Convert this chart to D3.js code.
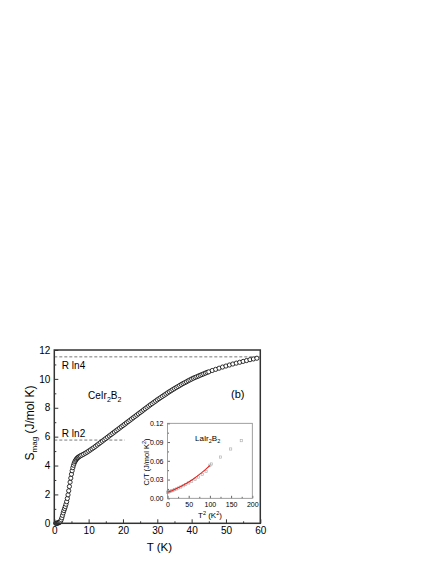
<!DOCTYPE html>
<html>
<head>
<meta charset="utf-8">
<script src="https://cdn.jsdelivr.net/npm/d3@7"></script>
<style>
  body { margin: 0; background: #fff; }
  svg text { font-family: "Liberation Sans", Arial, sans-serif; fill: #000; }
</style>
</head>
<body>
<svg id="chart" width="436" height="564"></svg>
<script>
// main panel: S_mag vs T for CeIr2B2
const tempK = [0.4,0.6,0.8,1.0,1.2,1.4,1.6,1.8,2.0,2.2,2.4,2.6,2.8,3.0,3.2,3.4,3.6,3.8,4.0,4.2,4.4,4.6,4.8,5.0,5.2,5.4,5.6,5.8,6.0,6.2,6.4,6.6,6.8,7.0,7.3,7.6,8.0,8.5,9.0,9.5,
  10,10.5,11,11.5,12,12.5,13,13.5,14,14.5,15,15.5,16,16.5,17,17.5,18,18.5,19,19.5,
  20,20.5,21,21.5,22,22.5,23,23.5,24,24.5,25,25.5,26,26.5,27,27.5,28,28.5,29,29.5,
  30,30.5,31,31.5,32,32.5,33,33.5,34,34.5,35,35.5,36,36.5,37,37.5,38,38.5,39,39.5,
  40,40.5,41,41.5,42,42.5,43,43.5,44,44.5,45,46,47,48,49,50,51,52,53,54,55,56,57,58,59];
const sMag = [0.00,0.00,0.01,0.02,0.03,0.05,0.08,0.14,0.24,0.38,0.55,0.72,0.88,1.02,1.16,1.32,1.50,1.72,1.97,2.25,2.55,2.85,3.13,3.40,3.64,3.85,4.02,4.16,4.27,4.36,4.43,4.49,4.54,4.58,4.63,4.67,4.72,4.78,4.85,4.92,
  5.00,5.08,5.16,5.24,5.33,5.42,5.51,5.60,5.69,5.78,5.87,5.96,6.05,6.14,6.23,6.32,6.41,6.50,6.59,6.68,
  6.77,6.86,6.95,7.04,7.13,7.22,7.31,7.40,7.49,7.58,7.67,7.76,7.85,7.94,8.03,8.12,8.21,8.29,8.38,8.46,
  8.55,8.63,8.71,8.79,8.87,8.95,9.03,9.11,9.18,9.26,9.33,9.40,9.47,9.54,9.61,9.68,9.74,9.80,9.87,9.93,
  9.99,10.05,10.10,10.15,10.20,10.25,10.30,10.35,10.40,10.45,10.49,10.58,10.66,10.74,10.82,10.89,10.96,11.03,11.09,11.15,11.21,11.27,11.33,11.38,11.43];
const R = 8.314;
const levels = [{label: "R ln4", value: R * Math.log(4), tmax: 60},
                {label: "R ln2", value: R * Math.log(2), tmax: 20.5}];
const xTicks = [0,10,20,30,40,50,60];
const yTicks = [0,2,4,6,8,10,12];

// inset: C/T vs T^2 for LaIr2B2
const tSq = [0.5,1.5,3,5,7,10,13,17,21,26,31,37,43,50,57,65,73,82,91,100,104,125,149,174];
const cOverT = [0.0098,0.0100,0.0104,0.0108,0.0113,0.0120,0.0128,0.0138,0.0150,0.0165,0.0180,0.0200,0.0220,0.0246,0.0272,0.0305,0.0340,0.0383,0.0428,0.0530,0.0549,0.0660,0.0789,0.0922];
const fitT2 = [0,10,20,30,40,50,60,70,80,90,100];
const fitCT = [0.0095,0.0122,0.0152,0.0185,0.0221,0.0261,0.0306,0.0354,0.0406,0.0462,0.0525];
const insetXTicks = [0,50,100,150,200];
const insetYTicks = [0,0.03,0.06,0.09,0.12];

const svg = d3.select("#chart");

let x = d3.scaleLinear().domain([0, 60]).range([54.3, 260.3]);
let y = d3.scaleLinear().domain([0, 12]).range([523.3, 350]);

// ticks pointing inward
function addAxes(g, xs, ys, xt, yt, xMinor, yMinor, fs, fmtY, major, minor) {
    let bottom = ys.range()[0], left = xs.range()[0];
    g.append("g").attr("transform", `translate(0,${bottom})`)
        .call(d3.axisBottom(xs).tickValues(xt).tickSizeInner(-major).tickSizeOuter(0).tickPadding(4))
        .call(a => a.select(".domain").remove())
        .call(a => a.selectAll("text").attr("font-size", fs));
    g.append("g").attr("transform", `translate(0,${bottom})`)
        .call(d3.axisBottom(xs).tickValues(xMinor).tickSizeInner(-minor).tickSizeOuter(0).tickFormat(""))
        .call(a => a.select(".domain").remove());
    g.append("g").attr("transform", `translate(${left},0)`)
        .call(d3.axisLeft(ys).tickValues(yt).tickSizeInner(-major).tickSizeOuter(0).tickPadding(4).tickFormat(fmtY))
        .call(a => a.select(".domain").remove())
        .call(a => a.selectAll("text").attr("font-size", fs));
    g.append("g").attr("transform", `translate(${left},0)`)
        .call(d3.axisLeft(ys).tickValues(yMinor).tickSizeInner(-minor).tickSizeOuter(0).tickFormat(""))
        .call(a => a.select(".domain").remove());
    g.selectAll(".tick line").attr("stroke", "#333");
}

let main = svg.append("g");

// reference levels
main.selectAll("line.level").data(levels).enter().append("line")
    .attr("class", "level")
    .attr("x1", x(0)).attr("x2", d => x(d.tmax))
    .attr("y1", d => y(d.value)).attr("y2", d => y(d.value))
    .attr("stroke", "#555").attr("stroke-width", 0.8).attr("stroke-dasharray", "3,2");

main.selectAll("text.level").data(levels).enter().append("text")
    .attr("class", "level")
    .attr("x", x(2.2)).attr("y", d => y(d.value) + (d.tmax > 30 ? 12 : -3))
    .attr("font-size", 10).text(d => d.label);

// data circles
main.selectAll("circle.s").data(tempK).enter().append("circle")
    .attr("class", "s")
    .attr("cx", d => x(d)).attr("cy", (d, i) => y(sMag[i]))
    .attr("r", 2.1).attr("fill", "#fff").attr("stroke", "#000").attr("stroke-width", 0.8);

addAxes(main, x, y, xTicks, yTicks, [5,15,25,35,45,55], [1,3,5,7,9,11], 10, d3.format("d"), 4, 2);

main.append("rect")
    .attr("x", x(0)).attr("y", y(12)).attr("width", x(60) - x(0)).attr("height", y(0) - y(12))
    .attr("fill", "none").attr("stroke", "#333").attr("stroke-width", 1.5);

// labels
let ce = main.append("text").attr("x", 88).attr("y", 399).attr("font-size", 10);
ce.append("tspan").text("CeIr");
ce.append("tspan").attr("font-size", 7).attr("dy", 3).text("2");
ce.append("tspan").attr("dy", -3).text("B");
ce.append("tspan").attr("font-size", 7).attr("dy", 3).text("2");

main.append("text").attr("x", 231).attr("y", 398).attr("font-size", 11).text("(b)");

main.append("text").attr("x", (x(0) + x(60)) / 2 + 2).attr("y", 551)
    .attr("text-anchor", "middle").attr("font-size", 11.5).text("T (K)");

let yt = main.append("text").attr("transform", "translate(34,423) rotate(-90)")
    .attr("text-anchor", "middle").attr("font-size", 12);
yt.append("tspan").text("S");
yt.append("tspan").attr("font-size", 8).attr("dy", 3).text("mag");
yt.append("tspan").attr("dy", -3).text(" (J/mol K)");

// inset
let ix = d3.scaleLinear().domain([0, 200]).range([167.5, 252.3]);
let iy = d3.scaleLinear().domain([0, 0.12]).range([498.3, 423.3]);
let inset = svg.append("g");

inset.append("rect")
    .attr("x", ix(0)).attr("y", iy(0.12)).attr("width", ix(200) - ix(0)).attr("height", iy(0) - iy(0.12))
    .attr("fill", "#fff");

inset.selectAll("rect.pt").data(tSq).enter().append("rect")
    .attr("class", "pt")
    .attr("x", d => ix(d) - 1.1).attr("y", (d, i) => iy(cOverT[i]) - 1.1)
    .attr("width", 2.2).attr("height", 2.2)
    .attr("fill", "none").attr("stroke", "#aaa").attr("stroke-width", 0.6);

let fitLine = d3.line().x(d => ix(d)).y((d, i) => iy(fitCT[i]));
inset.append("path").datum(fitT2).attr("d", fitLine)
    .attr("fill", "none").attr("stroke", "#e8231f").attr("stroke-width", 1.1);

addAxes(inset, ix, iy, insetXTicks, insetYTicks, [25,75,125,175], [0.015,0.045,0.075,0.105], 7, d3.format(".2f"), 2.5, 1.5);
inset.selectAll(".tick line").attr("stroke", "#666");

inset.append("rect")
    .attr("x", ix(0)).attr("y", iy(0.12)).attr("width", ix(200) - ix(0)).attr("height", iy(0) - iy(0.12))
    .attr("fill", "none").attr("stroke", "#888").attr("stroke-width", 0.8);

let la = inset.append("text").attr("x", 195).attr("y", 441).attr("font-size", 8);
la.append("tspan").text("LaIr");
la.append("tspan").attr("font-size", 5.5).attr("dy", 2).text("2");
la.append("tspan").attr("dy", -2).text("B");
la.append("tspan").attr("font-size", 5.5).attr("dy", 2).text("2");

let it = inset.append("text").attr("x", 210).attr("y", 518).attr("text-anchor", "middle").attr("font-size", 8);
it.append("tspan").text("T");
it.append("tspan").attr("font-size", 5.5).attr("dy", -3).text("2");
it.append("tspan").attr("dy", 3).text(" (K");
it.append("tspan").attr("font-size", 5.5).attr("dy", -3).text("2");
it.append("tspan").attr("dy", 3).text(")");

let iyt = inset.append("text").attr("transform", "translate(149,462) rotate(-90)")
    .attr("text-anchor", "middle").attr("font-size", 7.5);
iyt.append("tspan").text("C/T (J/mol K");
iyt.append("tspan").attr("font-size", 5.5).attr("dy", -3).text("2");
iyt.append("tspan").attr("dy", 3).text(")");
</script>
</body>
</html>
